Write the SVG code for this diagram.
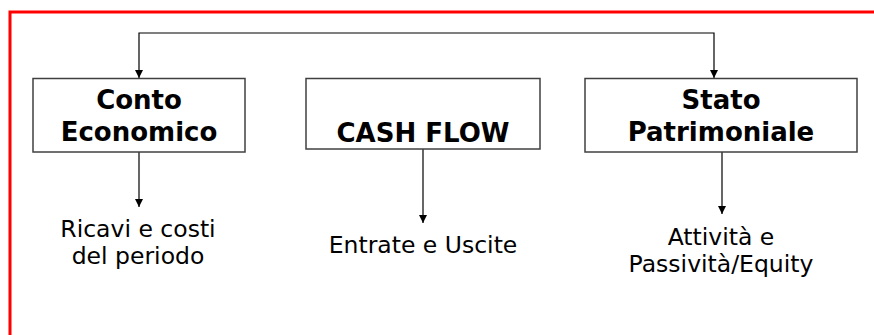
<svg xmlns="http://www.w3.org/2000/svg" width="874" height="335" viewBox="0 0 874 335">
  <style>
    .box { fill: #ffffff; stroke: #404040; stroke-width: 1.5; }
    .conn { fill: none; stroke: #000000; stroke-width: 1.2; }
    .title { font-family: "DejaVu Sans", Verdana, sans-serif; font-weight: bold; font-size: 26px; fill: #000000; text-anchor: middle; }
    .lbl { font-family: "DejaVu Sans", Verdana, sans-serif; font-size: 23.5px; fill: #000000; text-anchor: middle; }
  </style>
  <defs>
    <marker id="arrow" viewBox="0 0 8 8" refX="8" refY="4" markerWidth="8" markerHeight="8" markerUnits="userSpaceOnUse" orient="auto-start-reverse">
      <path d="M0,0 L8,4 L0,8 Z" fill="#000000"/>
    </marker>
  </defs>
  <rect width="874" height="335" fill="#ffffff"/>
  <path d="M10,340 V12 H880" fill="none" stroke="#ff0000" stroke-width="3"/>

  <g id="connectors">
    <path class="conn" d="M139,78 V33 H714 V78" marker-start="url(#arrow)" marker-end="url(#arrow)"/>
    <path class="conn" d="M139,152 V207" marker-end="url(#arrow)"/>
    <path class="conn" d="M423,149 V223" marker-end="url(#arrow)"/>
    <path class="conn" d="M722,152 V214" marker-end="url(#arrow)"/>
  </g>

  <g id="conto-economico">
    <rect class="box" x="33" y="78.5" width="212" height="73.5"/>
    <text class="title" x="139" y="109">Conto</text>
    <text class="title" x="139" y="141">Economico</text>
  </g>
  <g id="cash-flow">
    <rect class="box" x="306" y="78.5" width="234" height="70.5"/>
    <text class="title" x="423" y="142">CASH FLOW</text>
  </g>
  <g id="stato-patrimoniale">
    <rect class="box" x="585" y="78.5" width="272" height="73.5"/>
    <text class="title" x="721" y="108.5">Stato</text>
    <text class="title" x="721" y="141">Patrimoniale</text>
  </g>

  <g id="label-ricavi">
    <text class="lbl" x="138" y="237">Ricavi e costi</text>
    <text class="lbl" x="138" y="264">del periodo</text>
  </g>
  <g id="label-entrate">
    <text class="lbl" x="423" y="253">Entrate e Uscite</text>
  </g>
  <g id="label-attivita">
    <text class="lbl" x="721" y="245">Attività e</text>
    <text class="lbl" x="721" y="272">Passività/Equity</text>
  </g>
</svg>
